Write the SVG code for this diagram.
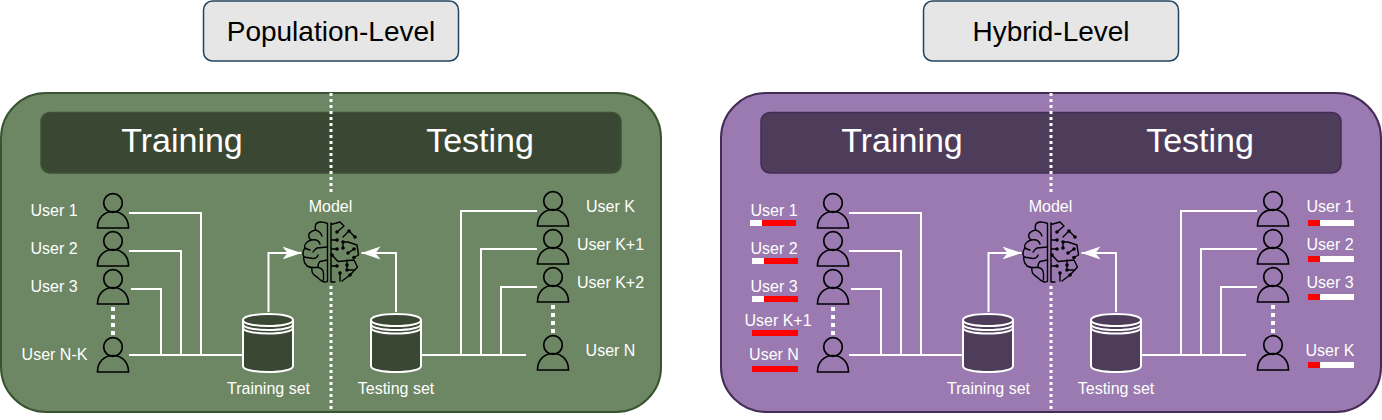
<svg xmlns="http://www.w3.org/2000/svg" width="1382" height="420" viewBox="0 0 1382 420">
<defs>
<style>
text{font-family:"Liberation Sans",Arial,sans-serif;text-anchor:middle}
.lbl{font-size:16px;fill:#fff}
.hd{font-size:34px;fill:#fff}
.ttl{font-size:28px;fill:#000}
.titlebox{fill:#e6e6e6;stroke:#23445d;stroke-width:1.5}
.wire{fill:none;stroke:#fff;stroke-width:2}
.dots{fill:none;stroke:#fff;stroke-width:3;stroke-dasharray:3 3}
.dots4{fill:none;stroke:#fff;stroke-width:4;stroke-dasharray:4 4}
.person{fill:none;stroke:#000;stroke-width:1.700}
.cylw{stroke:#fff;stroke-width:2}
.br{fill:none;stroke:#000;stroke-width:1.400;stroke-linecap:round;stroke-linejoin:round}
</style>
<marker id="arr" markerUnits="userSpaceOnUse" markerWidth="20" markerHeight="14" refX="19" refY="7" orient="auto"><path d="M0 .5 L19 7 L0 13.500 L5 7 Z" fill="#fff"/></marker>
<g id="p"><circle cx="0" cy="0" r="9.3" class="person"/><path class="person" d="M-15.500 25 C-15.500 15 -9 8.500 0 8.500 C9 8.500 15.500 15 15.500 25 Z"/></g>
<g id="brain">
<path class="br" d="M-2.500 -28.500 C-7 -30.500 -13 -31 -14.500 -27 C-15 -24 -14.500 -23 -14.500 -22 C-20 -21 -22 -18 -21 -14.500 L-19 -12 C-25 -10 -26 -6 -25 -4 C-27.500 -1 -27.500 2 -26 5 C-27 9 -26 11 -23 14 C-20 15.500 -18 15.500 -18 15.500 C-19 21 -15 24 -13 25 C-10 28 -7 30 -5 30 C-3 30 -2.500 30 -2.500 29 Z"/>
<path class="br" d="M-14.500 -22 C-11 -21 -9 -19 -8 -16 M-19 -12 C-14 -13 -11 -12 -10 -8 M-2.500 -5 L-13 -4 C-15 -3 -16 -1 -17 0 M-25 -4 C-23 -3 -21 -2 -20 -2 M-26 5 L-17 6.500 C-14 7 -12 4 -12 3 M-2.500 8 L-10 9.500 C-12 11 -12 13 -12 15 M-18 15.500 L-12 15.500 C-8 16 -6.500 18 -6.500 22 L-6.500 28"/>
<path class="br" d="M1 -29 L1 30 M1 -27.500 L10 -30 L14 -26 L7 -20 M19 -21 L13 -15 M19 -21 L25 -15 M1 -12 L7 -12 M13 -10 L13 -4 M13 -10 L18 -10 L27 -7 L28.500 3 L24 5.500 M18 1 L24 -3 M1 -3 L7 -3 M2 3 L8 9.500 L24 8 L27.500 15 L20 23 M1 14 L7 14 M17 8 L17 18 M17 18 L25 18 M10 21 L10 29 M1 30 L5 30 M12 29 L20 23"/>
<g fill="#000"><circle cx="7" cy="-20" r="1.800"/><circle cx="19" cy="-21" r="1.800"/><circle cx="25" cy="-15" r="1.800"/><circle cx="7" cy="-12" r="1.800"/><circle cx="13" cy="-10" r="1.800"/><circle cx="13" cy="-4" r="1.800"/><circle cx="7" cy="-3" r="1.800"/><circle cx="24" cy="-3" r="1.800"/><circle cx="18" cy="1" r="1.800"/><circle cx="2" cy="3" r="1.800"/><circle cx="24" cy="5.500" r="1.800"/><circle cx="7" cy="14" r="1.800"/><circle cx="17" cy="13" r="1.800"/><circle cx="17" cy="18" r="1.800"/><circle cx="10" cy="21" r="1.800"/><circle cx="20" cy="23" r="1.800"/></g>
</g>
</defs>

<g id="title-population"><rect class="titlebox" x="203.500" y="1" width="255" height="60" rx="9"/><text class="ttl" x="331" y="41">Population-Level</text></g>
<g id="title-hybrid"><rect class="titlebox" x="923.500" y="1" width="255" height="60" rx="9"/><text class="ttl" x="1051" y="41">Hybrid-Level</text></g>

<g id="panel-population">
<rect x="1" y="93" width="660" height="319" rx="45" fill="#6d8764" stroke="#3a5431" stroke-width="2"/>
<rect x="41" y="112.500" width="580" height="60.500" rx="9" fill="#3a4732" stroke="#3f5236" stroke-width="1.500"/>
<text class="hd" x="182" y="152">Training</text><text class="hd" x="480" y="152">Testing</text>
</g>
<g id="panel-hybrid">
<rect x="721" y="93" width="660" height="319" rx="45" fill="#9a7ab0" stroke="#432d57" stroke-width="2"/>
<rect x="761" y="112.500" width="580" height="60.500" rx="9" fill="#4d3d5a" stroke="#432d57" stroke-width="1.500"/>
<text class="hd" x="902" y="152">Training</text><text class="hd" x="1200" y="152">Testing</text>
</g>

<g id="connectors">
<path class="dots" d="M331 93V192M331 286V412M1051 93V192M1051 286V412"/>
<path class="dots4" d="M113 307V336M553 305V334M833 307V336M1273 305V334"/>
<path class="wire" d="M129 213H201V355M129 251H181V355M131 289H161V355M129 355H243"/>
<path class="wire" d="M421 355H526M461 355V211H537M481 355V249H537M501 355V287H537"/>
<path class="wire" d="M849 213H921V355M849 251H901V355M851 289H881V355M849 355H963"/>
<path class="wire" d="M1141 355H1246M1181 355V211H1257M1201 355V249H1257M1221 355V287H1257"/>
<path class="wire" marker-end="url(#arr)" d="M268.500 312V253H301.500"/>
<path class="wire" marker-end="url(#arr)" d="M396 312V253H361.500"/>
<path class="wire" marker-end="url(#arr)" d="M988.500 312V253H1021.500"/>
<path class="wire" marker-end="url(#arr)" d="M1116 312V253H1081.500"/>
</g>

<g id="pop-users-train"><use href="#p" x="113" y="203"/><use href="#p" x="113" y="241"/><use href="#p" x="113" y="279"/><use href="#p" x="113" y="347"/>
<text class="lbl" x="54" y="216">User 1</text><text class="lbl" x="54" y="254">User 2</text><text class="lbl" x="54" y="292">User 3</text><text class="lbl" x="54.500" y="360">User N-K</text></g>
<g id="pop-users-test"><use href="#p" x="553" y="201"/><use href="#p" x="553" y="239"/><use href="#p" x="553" y="277"/><use href="#p" x="553" y="345"/>
<text class="lbl" x="610.500" y="212">User K</text><text class="lbl" x="610.500" y="250">User K+1</text><text class="lbl" x="610.500" y="288">User K+2</text><text class="lbl" x="610.500" y="356">User N</text></g>
<g id="hyb-users-train"><use href="#p" x="833" y="203"/><use href="#p" x="833" y="241"/><use href="#p" x="833" y="279"/><use href="#p" x="833" y="347"/>
<text class="lbl" x="774" y="216">User 1</text><text class="lbl" x="774" y="254">User 2</text><text class="lbl" x="774" y="292">User 3</text><text class="lbl" x="778" y="326">User K+1</text><text class="lbl" x="774" y="360">User N</text></g>
<g id="hyb-users-test"><use href="#p" x="1273" y="201"/><use href="#p" x="1273" y="239"/><use href="#p" x="1273" y="277"/><use href="#p" x="1273" y="345"/>
<text class="lbl" x="1330" y="212">User 1</text><text class="lbl" x="1330" y="250">User 2</text><text class="lbl" x="1330" y="288">User 3</text><text class="lbl" x="1330" y="356">User K</text></g>

<g id="bars">
<rect x="750" y="220" width="12" height="6" fill="#fff"/><rect x="762" y="220" width="34" height="6" fill="#f00"/>
<rect x="752" y="258" width="12" height="6" fill="#fff"/><rect x="764" y="258" width="34" height="6" fill="#f00"/>
<rect x="752" y="296" width="12" height="6" fill="#fff"/><rect x="764" y="296" width="34" height="6" fill="#f00"/>
<rect x="752" y="330" width="46" height="6" fill="#f00"/><rect x="752" y="366" width="46" height="6" fill="#f00"/>
<rect x="1308" y="220" width="46" height="6" fill="#fff"/><rect x="1308" y="220" width="12" height="6" fill="#f00"/>
<rect x="1308" y="256" width="46" height="6" fill="#fff"/><rect x="1308" y="256" width="12" height="6" fill="#f00"/>
<rect x="1308" y="294" width="46" height="6" fill="#fff"/><rect x="1308" y="294" width="12" height="6" fill="#f00"/>
<rect x="1308" y="362" width="46" height="6" fill="#fff"/><rect x="1308" y="362" width="12" height="6" fill="#f00"/>
</g>

<g id="cyl-pop-train"><path class="cylw" fill="#3a4732" d="M243 320C243 312 293 312 293 320V366C293 374 243 374 243 366Z"/><path class="cylw" fill="none" d="M243 320C243 328 293 328 293 320M243 324C243 332 293 332 293 324M243 327.500C243 335.500 293 335.500 293 327.500"/><text class="lbl" x="268.500" y="394">Training set</text></g>
<g id="cyl-pop-test"><path class="cylw" fill="#3a4732" d="M371 320C371 312 421 312 421 320V366C421 374 371 374 371 366Z"/><path class="cylw" fill="none" d="M371 320C371 328 421 328 421 320M371 324C371 332 421 332 421 324M371 327.500C371 335.500 421 335.500 421 327.500"/><text class="lbl" x="396" y="394">Testing set</text></g>
<g id="cyl-hyb-train"><path class="cylw" fill="#4d3d5a" d="M963 320C963 312 1013 312 1013 320V366C1013 374 963 374 963 366Z"/><path class="cylw" fill="none" d="M963 320C963 328 1013 328 1013 320M963 324C963 332 1013 332 1013 324M963 327.500C963 335.500 1013 335.500 1013 327.500"/><text class="lbl" x="988.500" y="394">Training set</text></g>
<g id="cyl-hyb-test"><path class="cylw" fill="#4d3d5a" d="M1091 320C1091 312 1141 312 1141 320V366C1141 374 1091 374 1091 366Z"/><path class="cylw" fill="none" d="M1091 320C1091 328 1141 328 1141 320M1091 324C1091 332 1141 332 1141 324M1091 327.500C1091 335.500 1141 335.500 1141 327.500"/><text class="lbl" x="1116" y="394">Testing set</text></g>

<g id="model-pop"><use href="#brain" x="330" y="252"/><text class="lbl" x="330.500" y="212">Model</text></g>
<g id="model-hyb"><use href="#brain" x="1050" y="252"/><text class="lbl" x="1050.500" y="212">Model</text></g>
</svg>
